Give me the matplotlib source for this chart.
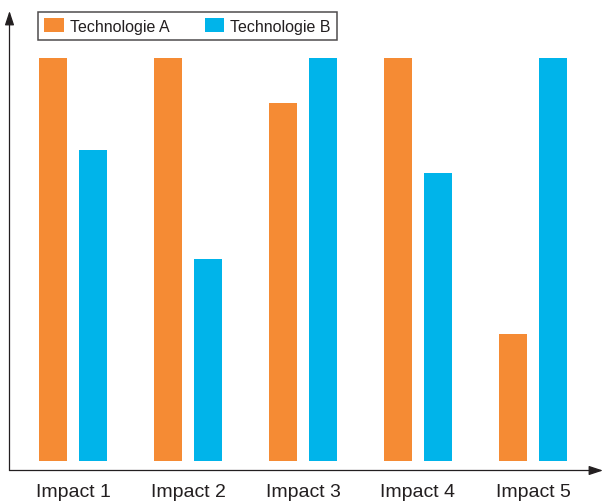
import matplotlib
matplotlib.use("Agg")
import matplotlib.pyplot as plt
import numpy as np

plt.rcParams["font.family"] = ["Liberation Sans", "DejaVu Sans"]

categories = ["Impact 1", "Impact 2", "Impact 3", "Impact 4", "Impact 5"]
tech_a = [100, 100, 88.8, 100, 31.5]
tech_b = [77.2, 50.1, 100, 71.5, 100]

color_a = "#F58B34"
color_b = "#00B4EA"
ink = "#231F20"

W, H = 604, 502
fig = plt.figure(figsize=(W / 100, H / 100), dpi=100)
ax = fig.add_axes([9.5 / W, 1 - 471.5 / H, (603 - 9.5) / W, (471.5 - 12) / H])

x = np.arange(len(categories))
width = 0.2435
off = 0.174
ax.bar(x - off, tech_a, width, color=color_a, label="Technologie A")
ax.bar(x + off, tech_b, width, color=color_b, label="Technologie B")

ax.set_xlim(-0.552, 4.609)
ax.set_ylim(-2.45, 111.7)

for s in ax.spines.values():
    s.set_visible(False)

# axes drawn as arrows
arrow = dict(arrowstyle="-|>,head_length=0.85,head_width=0.28", color=ink,
             lw=0.9, shrinkA=0, shrinkB=0)
ax.annotate("", xy=(1, 0), xytext=(0, 0), xycoords="axes fraction",
            arrowprops=arrow, annotation_clip=False)
ax.annotate("", xy=(0, 1), xytext=(0, 0), xycoords="axes fraction",
            arrowprops=arrow, annotation_clip=False)

ax.set_yticks([])
ax.set_xticks(x)
ax.set_xticklabels(categories, fontsize=14, color=ink)
ax.tick_params(axis="x", length=0, pad=9)

leg = ax.legend(
    loc="upper left",
    bbox_to_anchor=(38 / W, 1 - 13 / H),
    bbox_transform=fig.transFigure,
    ncol=2,
    fontsize=11.5,
    frameon=True,
    fancybox=False,
    handlelength=1.2,
    handleheight=0.9,
    handletextpad=0.38,
    columnspacing=2.25,
    borderpad=0.4,
    borderaxespad=0,
)
leg.get_frame().set_edgecolor(ink)
leg.get_frame().set_linewidth(1.1)
for t in leg.get_texts():
    t.set_color(ink)

fig.savefig("out.png", dpi=100)
